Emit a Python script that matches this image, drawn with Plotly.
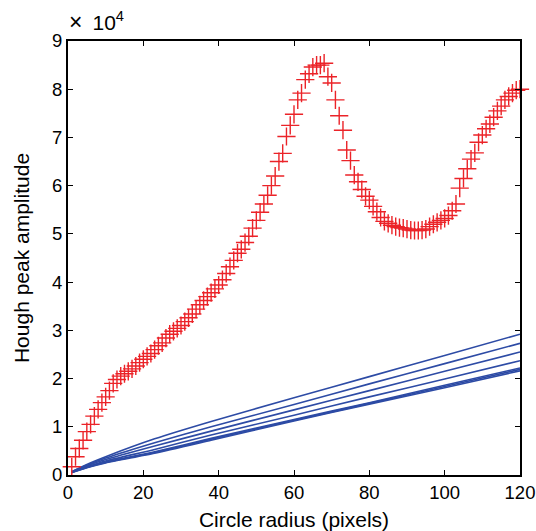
import plotly.graph_objects as go

# Red "+" markers: Hough peak amplitude (units of 1e4) vs circle radius (pixels)
radius = list(range(1, 121))
amplitude = [
    0.17, 0.38, 0.55, 0.72, 0.90, 1.05, 1.22, 1.36, 1.50, 1.62,
    1.75, 1.90, 1.98, 2.05, 2.10, 2.15, 2.20, 2.26, 2.33, 2.40,
    2.46, 2.52, 2.60, 2.68, 2.74, 2.84, 2.92, 2.98, 3.04, 3.10,
    3.18, 3.26, 3.34, 3.44, 3.53, 3.62, 3.70, 3.78, 3.86, 3.94,
    4.05, 4.18, 4.32, 4.45, 4.60, 4.68, 4.82, 4.95, 5.12, 5.28,
    5.45, 5.62, 5.80, 6.00, 6.20, 6.50, 6.67, 7.02, 7.25, 7.48,
    7.78, 7.92, 8.20, 8.32, 8.46, 8.50, 8.50, 8.54, 8.26, 8.13,
    7.78, 7.45, 7.15, 6.74, 6.52, 6.22, 6.08, 5.92, 5.78, 5.70,
    5.57, 5.46, 5.34, 5.26, 5.22, 5.18, 5.15, 5.13, 5.12, 5.10,
    5.08, 5.07, 5.07, 5.08, 5.10, 5.15, 5.20, 5.24, 5.28, 5.32,
    5.38, 5.48, 5.62, 5.95, 6.15, 6.35, 6.55, 6.68, 6.90, 7.05,
    7.18, 7.28, 7.42, 7.55, 7.65, 7.78, 7.85, 7.92, 7.98, 8.00,
]

# Blue reference lines (units of 1e4), sampled at these radii
line_radius = [1, 5, 10, 23, 38, 60, 80, 100, 120]
line_1 = [0.07, 0.22, 0.38, 0.75, 1.11, 1.60, 2.04, 2.48, 2.92]
line_2 = [0.07, 0.20, 0.35, 0.67, 1.00, 1.46, 1.89, 2.31, 2.73]
line_3 = [0.06, 0.19, 0.32, 0.60, 0.91, 1.35, 1.75, 2.15, 2.55]
line_4 = [0.06, 0.17, 0.29, 0.53, 0.83, 1.24, 1.62, 1.99, 2.37]
line_5 = [0.05, 0.16, 0.27, 0.48, 0.76, 1.15, 1.50, 1.86, 2.22]
line_6 = [0.05, 0.155, 0.26, 0.465, 0.74, 1.135, 1.485, 1.835, 2.19]
line_7 = [0.05, 0.15, 0.25, 0.45, 0.72, 1.12, 1.47, 1.81, 2.16]
lines = [line_1, line_2, line_3, line_4, line_5, line_6, line_7]

x_ticks = [0, 20, 40, 60, 80, 100, 120]
y_ticks = [0, 1, 2, 3, 4, 5, 6, 7, 8, 9]

FONT = "Liberation Sans, Arial, sans-serif"
BLUE = "rgb(45,75,165)"
RED = "rgb(235,35,40)"

fig = go.Figure()
for ln in lines:
    fig.add_trace(go.Scatter(x=line_radius, y=ln, mode="lines",
                             line=dict(color=BLUE, width=1.6, shape="spline", smoothing=0.6),
                             showlegend=False, hoverinfo="skip"))

fig.add_trace(go.Scatter(x=radius, y=amplitude, mode="markers",
                         marker=dict(symbol="cross-thin", size=13,
                                     line=dict(color=RED, width=1.4)),
                         cliponaxis=False, showlegend=False))

axis_common = dict(showline=True, linecolor="black", linewidth=2, mirror="ticks",
                   ticks="inside", ticklen=5, tickwidth=1.2, tickcolor="black",
                   showgrid=False, zeroline=False, automargin=False,
                   ticklabeloverflow="allow",
                   tickfont=dict(family=FONT, size=18.5, color="black"))

fig.update_xaxes(range=[0, 120], tickvals=x_ticks, ticktext=[str(v) for v in x_ticks],
                 title=dict(text="Circle radius (pixels)", font=dict(family=FONT, size=21, color="black"),
                            standoff=11),
                 **axis_common)
fig.update_yaxes(range=[0, 9], tickvals=y_ticks, ticktext=[str(v) for v in y_ticks],
                 title=dict(text="Hough peak amplitude", font=dict(family=FONT, size=21, color="black"),
                            standoff=17),
                 **axis_common)

fig.add_annotation(xref="paper", yref="paper", x=0, y=1, xanchor="left", yanchor="bottom",
                   text="<span style='font-size:23px'>\u00d7</span>\u2009 10<sup>4</sup>",
                   showarrow=False, yshift=4, xshift=-1,
                   font=dict(family=FONT, size=21, color="black"))

fig.update_layout(width=536, height=531, plot_bgcolor="white", paper_bgcolor="white",
                  margin=dict(l=68, r=16, t=41, b=56))

fig.write_html("out.html", config={"displayModeBar": False},
               post_script="document.body.style.margin='0';document.body.style.overflow='hidden';")
